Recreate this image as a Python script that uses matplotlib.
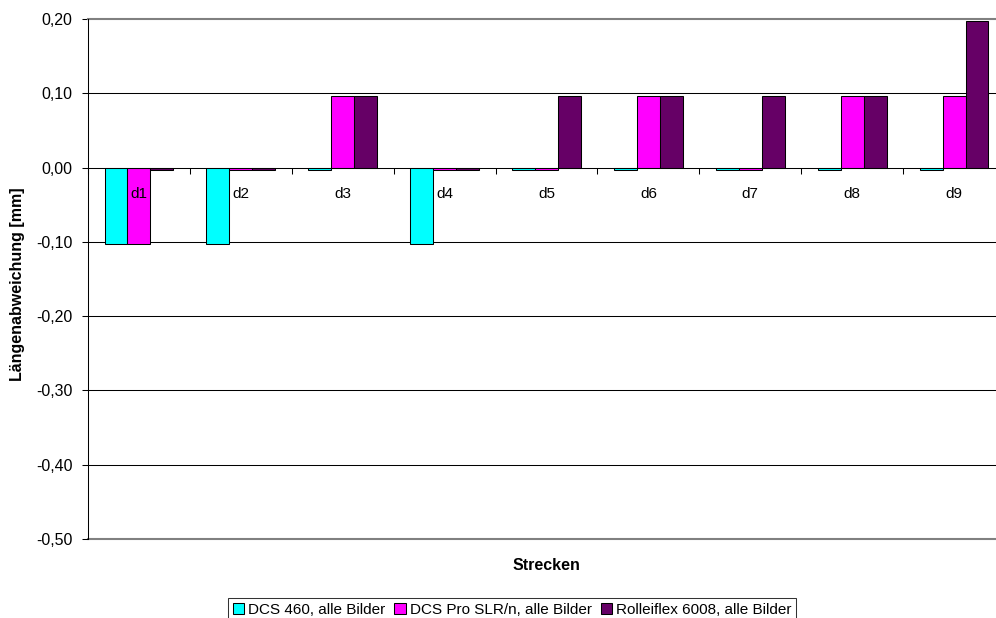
import matplotlib
matplotlib.use("Agg")
import matplotlib.pyplot as plt
import numpy as np
from matplotlib.ticker import FuncFormatter, FixedLocator

plt.rcParams['font.family'] = ['Liberation Sans', 'DejaVu Sans']

categories = ["d1", "d2", "d3", "d4", "d5", "d6", "d7", "d8", "d9"]
series_names = ["DCS 460, alle Bilder", "DCS Pro SLR/n, alle Bilder", "Rolleiflex 6008, alle Bilder"]
dcs460 = [-0.103, -0.103, -0.003, -0.103, -0.003, -0.003, -0.003, -0.003, -0.003]
dcspro = [-0.103, -0.003, 0.097, -0.003, -0.003, 0.097, -0.003, 0.097, 0.097]
rollei = [-0.003, -0.003, 0.097, -0.003, 0.097, 0.097, 0.097, 0.097, 0.197]
colors = ["#00FFFF", "#FF00FF", "#660066"]

fig = plt.figure(figsize=(9.96, 6.18), dpi=100)
ax = fig.add_axes([88/996, 1-539/618, 917/996, 520/618])

x = np.arange(len(categories))
w = 0.225
for i, (vals, c, name) in enumerate(zip([dcs460, dcspro, rollei], colors, series_names)):
    ax.bar(x + (i-1)*w, vals, width=w, color=c, edgecolor="black", linewidth=0.75, label=name, zorder=2)

ax.set_xlim(-0.5, len(categories)-0.5)
ax.set_ylim(-0.5, 0.2)

yt = [-0.5, -0.4, -0.3, -0.2, -0.1, 0.0, 0.1, 0.2]
ax.yaxis.set_major_locator(FixedLocator(yt))
ax.yaxis.set_major_formatter(FuncFormatter(lambda v, p: f"{v:.2f}".replace(".", ",")))
for v in [-0.4, -0.3, -0.2, -0.1, 0.1]:
    ax.axhline(v, color="black", linewidth=0.75, zorder=1)
ax.axhline(-0.5, color="#808080", linewidth=1.5, zorder=1.5, clip_on=False)

ax.spines['right'].set_visible(False)
ax.spines['top'].set_color("#808080")
ax.spines['top'].set_linewidth(1.5)
ax.spines['left'].set_color("black")
ax.spines['left'].set_linewidth(0.75)
ax.spines['left'].set_zorder(4)
ax.spines['bottom'].set_position(('data', 0))
ax.spines['bottom'].set_color("black")
ax.spines['bottom'].set_linewidth(0.75)
ax.spines['bottom'].set_zorder(4)

ax.set_xticks(np.arange(len(categories)+1) - 0.5)
ax.set_xticklabels([])
ax.set_xticks(x, minor=True)
ax.set_xticklabels(categories, minor=True)
ax.xaxis.set_zorder(5)
ax.tick_params(axis='x', which='major', direction='out', length=4.5, width=0.75, color='black')
ax.tick_params(axis='x', which='minor', length=0, pad=14, labelsize=11)
ax.tick_params(axis='y', direction='out', length=4.5, width=0.75, pad=6.5, labelsize=11.5)

fig.text((88+1005)/2/996, 1-566/618, "Strecken", ha='center', va='center', fontsize=11.5, fontweight='bold')
fig.text(18/996, 1-284/618, "Längenabweichung [mm]", ha='center', va='center', rotation=90, fontsize=11.5, fontweight='bold')

leg = fig.legend(loc='upper left', bbox_to_anchor=(228/996, 1-598/618), bbox_transform=fig.transFigure,
                 ncol=3, frameon=True, fancybox=False, shadow=False, fontsize=11,
                 handlelength=0.75, handleheight=0.75, handletextpad=0.25, columnspacing=0.6,
                 borderpad=0.3, borderaxespad=0)
leg.get_frame().set_edgecolor("black")
leg.get_frame().set_linewidth(0.75)

fig.savefig("out.png", dpi=100)
